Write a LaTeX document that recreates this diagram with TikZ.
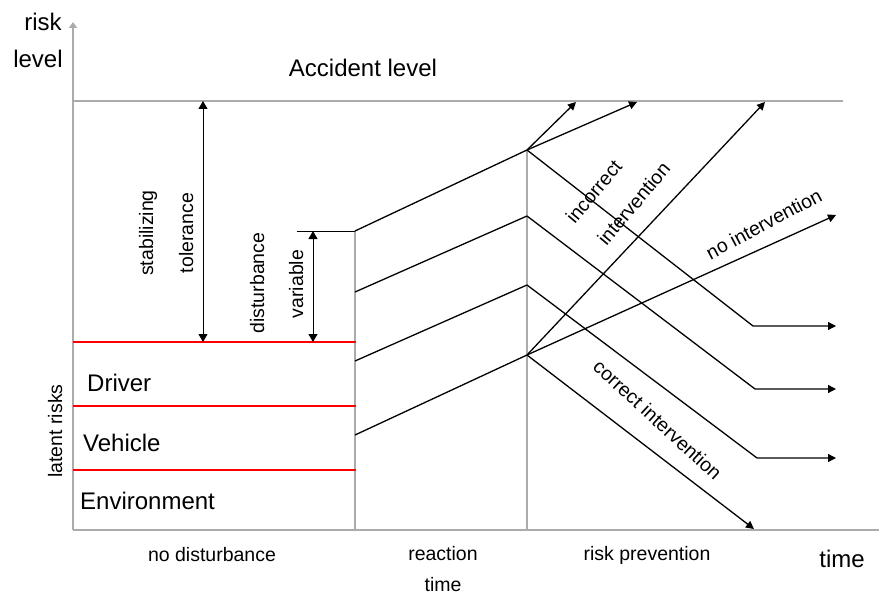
\documentclass[tikz,border=0pt]{standalone}
\usepackage{fontspec}
\setmainfont{Liberation Sans}
\usetikzlibrary{arrows.meta}

\begin{document}
\begin{tikzpicture}[
  x=1pt, y=-1pt,
  axis/.style={draw=black!33, line width=2.4pt},
  guide/.style={draw=black!33, line width=1.5pt},
  layer/.style={draw=red, line width=1.5pt},
  riskline/.style={draw=black, line width=1.3pt},
  arrow/.style={riskline, -{Triangle[length=8pt, width=8pt]}},
  span/.style={draw=black, line width=1pt, {Triangle[length=8pt, width=9pt]}-{Triangle[length=8pt, width=9pt]}},
  biglbl/.style={font=\fontsize{24}{28}\selectfont, inner sep=0pt, anchor=base},
  smalllbl/.style={font=\fontsize{19.5}{23}\selectfont, inner sep=0pt, anchor=base}
]
\useasboundingbox (0,0) rectangle (879,594);

% axes and guide lines
\coordinate (origin) at (73,530);
\coordinate (ytop) at (73,22);
\coordinate (xend) at (879,530);
\draw[axis, -{Triangle[length=6pt, width=8pt]}] (origin) -- (ytop);
\draw[axis] (origin) -- (xend);
\coordinate (acc0) at (73,101);
\coordinate (acc1) at (843,101);
\draw[guide] (acc0) -- (acc1);
\coordinate (react0) at (355,231);
\coordinate (react1) at (355,530);
\coordinate (prev0) at (527,150);
\coordinate (prev1) at (527,530);
\draw[guide] (react0) -- (react1);
\draw[guide] (prev0) -- (prev1);

% latent risk layers
\foreach \y/\n in {342/drv, 406/veh, 470/env} {
  \coordinate (\n0) at (73,\y);
  \coordinate (\n1) at (356,\y);
  \draw[layer] (\n0) -- (\n1);
}

% tolerance and disturbance
\coordinate (tol0) at (203,101);
\coordinate (tol1) at (203,342);
\draw[span] (tol0) -- (tol1);
\coordinate (dist0) at (313,231);
\coordinate (dist1) at (313,342);
\coordinate (tick) at (297,231);
\draw[line width=1pt] (tick) -- (react0);
\draw[span] (dist0) -- (dist1);

% risk courses
\coordinate (a0) at (355,231);
\coordinate (a1) at (527,150);
\coordinate (a2) at (753,326);
\coordinate (b0) at (355,292);
\coordinate (b1) at (527,216);
\coordinate (b2) at (755,389);
\coordinate (c0) at (355,361);
\coordinate (c1) at (527,285);
\coordinate (c2) at (757,458);
\coordinate (d0) at (355,435);
\coordinate (d1) at (527,355);
\draw[riskline] (a0) -- (a1);
\draw[riskline] (b0) -- (b1);
\draw[riskline] (c0) -- (c1);
\draw[riskline] (d0) -- (d1);
\coordinate (aup1) at (576,102);
\coordinate (aup2) at (637,102);
\draw[arrow] (a1) -- (aup1);
\draw[arrow] (a1) -- (aup2);
\coordinate (aend) at (836,326);
\coordinate (bend) at (836,389);
\coordinate (cend) at (836,458);
\draw[arrow] (a1) -- (a2) -- (aend);
\draw[arrow] (b1) -- (b2) -- (bend);
\draw[arrow] (c1) -- (c2) -- (cend);
\coordinate (dup) at (765,102);
\coordinate (dnone) at (836,215);
\coordinate (dok) at (754,529);
\draw[arrow] (d1) -- (dup);
\draw[arrow] (d1) -- (dnone);
\draw[arrow] (d1) -- (dok);

% labels
\node[biglbl] (risk) at (43,31) {risk};
\node[biglbl] (level) at (38,68) {level};
\node[biglbl] (accident) at (363,77) {Accident level};
\node[biglbl, anchor=base west] (driver) at (87,391) {Driver};
\node[biglbl, anchor=base west] (vehicle) at (83,451) {Vehicle};
\node[biglbl, anchor=base west] (environment) at (80,509) {Environment};
\node[biglbl] (time) at (842,567) {time};
\node[smalllbl, rotate=90] (latent) at (62,431) {latent risks};
\node[smalllbl, rotate=90] (stab) at (153,233) {stabilizing};
\node[smalllbl, rotate=90] (toler) at (193,233) {tolerance};
\node[smalllbl, rotate=90] (disturb) at (264,283) {disturbance};
\node[smalllbl, rotate=90] (variable) at (303,284) {variable};
\node[smalllbl] (nodist) at (212,561) {no disturbance};
\node[smalllbl] (reaction) at (443,560) {reaction};
\node[smalllbl] (rtime) at (443,591) {time};
\node[smalllbl] (prevention) at (647,560) {risk prevention};
\node[smalllbl, rotate=50] (incorrect) at (599,196) {incorrect};
\node[smalllbl, rotate=50] (intervention) at (639,208) {intervention};
\node[smalllbl, rotate=28] (nointerv) at (767,230) {no intervention};
\node[smalllbl, rotate=-42.5] (correct) at (653,425) {correct intervention};
\end{tikzpicture}
\end{document}
